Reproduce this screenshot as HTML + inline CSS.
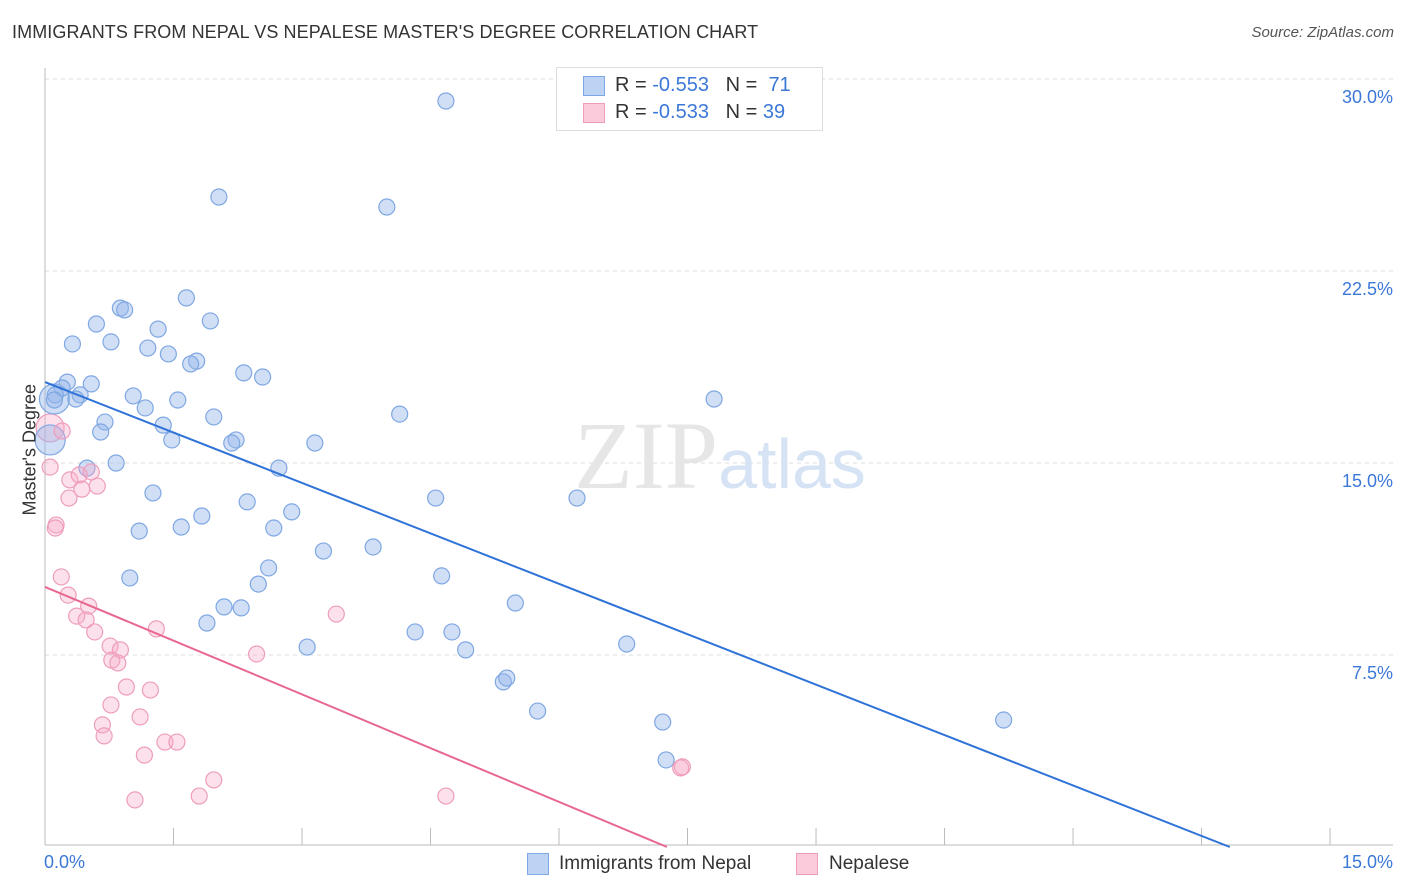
<!DOCTYPE html>
<html><head><meta charset="utf-8">
<style>
body{margin:0;background:#fff;font-family:"Liberation Sans",sans-serif;}
#wrap{position:relative;width:1406px;height:892px;overflow:hidden;}
.t{position:absolute;white-space:nowrap;}
</style></head><body>
<div id="wrap">
<div class="t" style="left:12px;top:22px;font-size:18px;color:#333;letter-spacing:0.1px;">IMMIGRANTS FROM NEPAL VS NEPALESE MASTER'S DEGREE CORRELATION CHART</div>
<div class="t" style="right:12px;top:24px;font-size:15px;color:#555;font-style:italic;">Source: ZipAtlas.com</div>
<svg id="svg" width="1406" height="892" style="position:absolute;left:0;top:0"></svg>
</div>
<script>
const xTicks=[0,1.5,3,4.5,6,7.5,9,10.5,12,13.5,15];
const yTicks=[7.5,15,22.5,30];
const yTickLabels=["7.5%","15.0%","22.5%","30.0%"];
const blueX=[4.68,2.03,3.99,1.65,0.88,0.93,1.93,0.60,1.32,0.32,0.77,1.20,1.44,1.77,1.70,2.32,2.54,0.26,0.54,0.20,0.12,0.41,1.03,0.36,0.11,1.55,1.17,4.14,7.81,1.97,0.70,1.38,0.65,2.23,2.18,1.48,3.15,0.83,0.49,2.73,1.26,4.56,6.21,2.36,2.88,1.83,1.59,2.67,1.10,3.25,3.83,0.99,2.61,4.63,2.49,2.09,2.29,5.49,1.89,4.32,4.75,3.06,6.79,4.91,5.35,5.39,5.75,7.21,11.19,7.25];
const blueY=[29.14,25.39,25.0,21.45,21.05,20.98,20.55,20.43,20.23,19.65,19.73,19.49,19.26,18.98,18.87,18.52,18.36,18.16,18.09,17.93,17.66,17.66,17.62,17.50,17.46,17.46,17.15,16.91,17.50,16.80,16.60,16.48,16.21,15.90,15.78,15.90,15.78,15.0,14.80,14.80,13.83,13.63,13.63,13.48,13.09,12.93,12.50,12.46,12.34,11.56,11.72,10.51,10.90,10.59,10.27,9.38,9.34,9.53,8.75,8.40,8.40,7.81,7.93,7.70,6.45,6.60,5.31,4.88,4.96,3.40];
const pinkX=[0.06,0.20,0.13,0.12,0.29,0.40,0.54,0.43,0.61,0.28,0.19,0.27,0.51,0.37,0.48,0.58,1.30,3.40,0.76,0.88,2.47,0.78,0.85,0.95,1.23,0.77,1.11,0.67,0.69,1.40,1.54,1.16,1.97,1.80,1.05,4.68,7.42,7.44];
const pinkY=[14.84,16.25,12.58,12.46,14.34,14.53,14.65,13.98,14.10,13.63,10.55,9.84,9.41,9.02,8.87,8.40,8.52,9.10,7.85,7.70,7.54,7.30,7.19,6.25,6.13,5.55,5.08,4.77,4.34,4.10,4.10,3.59,2.62,1.99,1.84,1.99,3.09,3.13];
const blueBig=[[0.06,15.9],[0.11,17.5]];
const pinkBig=[[0.06,16.37]];
const blueLine=[[0,18.16],[13.83,0]];
const pinkLine=[[0,10.16],[7.26,0]];
const X=v=>45+v*85.67, Y=v=>847-v*25.6;
const svg=document.getElementById('svg');const NS='http://www.w3.org/2000/svg';
function el(tag,a){const e=document.createElementNS(NS,tag);for(const k in a)e.setAttribute(k,a[k]);svg.appendChild(e);return e;}
yTicks.forEach((v,i)=>{
 const g=el('line',{x1:45,x2:1393,y1:Y(v),y2:Y(v),stroke:'#ddd','stroke-dasharray':'4,4'});
 
 
 const t=el('text',{x:1393,y:Y(v)+24,'text-anchor':'end','font-size':18,fill:'#3b78d8','font-family':'Liberation Sans,sans-serif'});
 t.textContent=yTickLabels[i];
 
 
});
const ax=el('line',{x1:45,x2:45,y1:68,y2:845,stroke:'#bbb'});


const bx=el('line',{x1:45,x2:1393,y1:845,y2:845,stroke:'#bbb'});


xTicks.forEach(v=>{const l=el('line',{x1:X(v),x2:X(v),y1:828,y2:845,stroke:'#bbb'});
 
 });
const wm=el('text',{x:720,y:488,'text-anchor':'middle','font-size':96,fill:'#e6e6e6','font-family':'Liberation Serif,serif'});
wm.innerHTML='ZIP<tspan fill="#d6e3f5" font-family="Liberation Sans,sans-serif" font-size="70">atlas</tspan>';


function dot(x,y,r,c){const d=el('circle',{cx:X(x),cy:Y(y),r:r,fill:c[0],stroke:c[1],'stroke-width':1.2});return d;}
const BC=['rgba(150,185,235,0.45)','#7fa7e3'],PC=['rgba(245,170,200,0.35)','#ee9dbb'];
pinkBig.forEach(p=>{const d=dot(p[0],p[1],14,PC);
 
 });
blueBig.forEach(p=>{const d=dot(p[0],p[1],15,BC);
 
 });
blueX.forEach((x,i)=>{const d=dot(x,blueY[i],8,BC);
 
 });
pinkX.forEach((x,i)=>{const d=dot(x,pinkY[i],8,PC);
 
 });
const l1=el('line',{x1:X(blueLine[0][0]),y1:Y(blueLine[0][1]),x2:X(blueLine[1][0]),y2:Y(blueLine[1][1]),stroke:'#2f72d8','stroke-width':2});


const l2=el('line',{x1:X(pinkLine[0][0]),y1:Y(pinkLine[0][1]),x2:X(pinkLine[1][0]),y2:Y(pinkLine[1][1]),stroke:'#e8678f','stroke-width':2});


</script>
<div class="t" style="left:44px;top:852px;font-size:18px;color:#3b78d8;">0.0%</div>
<div class="t" style="right:13px;top:852px;font-size:18px;color:#3b78d8;">15.0%</div>
<div class="t" style="left:-30px;top:445px;font-size:18px;color:#333;transform:rotate(-90deg);transform-origin:center;width:120px;">Master's Degree</div>
<div style="position:absolute;left:556px;top:67px;width:265px;height:62px;border:1px solid #ddd;background:#fff;font-size:20px;">
 <div class="t" style="left:26px;top:8px;width:20px;height:18px;background:#bcd3f3;border:1px solid #7fa7e3;"></div>
 <div class="t" style="left:58px;top:6px;color:#333;">R = <span style="color:#3b78d8">-0.553</span> &nbsp;&nbsp;N = &nbsp;<span style="color:#3b78d8">71</span></div>
 <div class="t" style="left:26px;top:35px;width:20px;height:18px;background:#f9cbdb;border:1px solid #ee9dbb;"></div>
 <div class="t" style="left:58px;top:33px;color:#333;">R = <span style="color:#3b78d8">-0.533</span> &nbsp;&nbsp;N = <span style="color:#3b78d8">39</span></div>
</div>
<div class="t" style="left:527px;top:853px;width:20px;height:20px;background:#bcd3f3;border:1px solid #7fa7e3;"></div>
<div class="t" style="left:559px;top:853px;font-size:19px;color:#333;">Immigrants from Nepal</div>
<div class="t" style="left:796px;top:853px;width:20px;height:20px;background:#f9cbdb;border:1px solid #ee9dbb;"></div>
<div class="t" style="left:829px;top:853px;font-size:19px;color:#333;">Nepalese</div>
</body></html>
